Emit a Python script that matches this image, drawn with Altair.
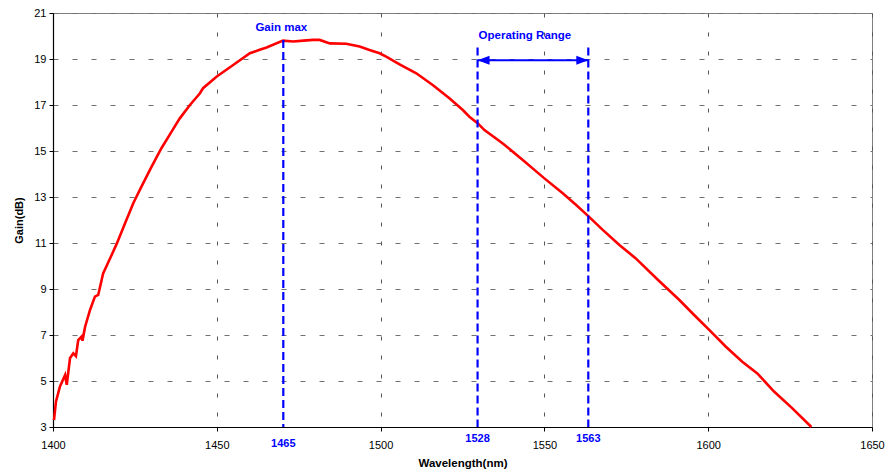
import altair as alt
import pandas as pd

# Curve
wavelength = [1400.3, 1400.9, 1402.1, 1403.7, 1404.2, 1405.2, 1406.2, 1407.0, 1407.7, 1408.7,
              1409.0, 1409.8, 1411.3, 1412.8, 1413.8, 1415.3, 1417.9, 1419.4, 1422.0, 1424.5,
              1427.0, 1430.1, 1433.1, 1436.2, 1438.7, 1441.8, 1444.8, 1445.8, 1449.9, 1455.0,
              1460.1, 1463.1, 1465.2, 1470.2, 1473.3, 1476.5, 1479.4, 1481.4, 1484.5, 1489.5,
              1493.6, 1496.6, 1499.7, 1501.7, 1505.8, 1510.9, 1515.9, 1521.0, 1525.1, 1527.1,
              1529.7, 1531.7, 1537.3, 1543.4, 1550.0, 1555.6, 1559.7, 1563.4, 1567.8, 1572.9,
              1577.9, 1584.7, 1591.2, 1595.7, 1600.3, 1605.4, 1610.4, 1615.0, 1620.1, 1625.7,
              1631.5]
gain = [3.30, 4.10, 4.75, 5.26, 4.83, 6.00, 6.20, 6.08, 6.78, 6.93,
        6.75, 7.36, 8.09, 8.67, 8.74, 9.68, 10.48, 10.95, 11.86, 12.73,
        13.45, 14.32, 15.12, 15.84, 16.42, 17.00, 17.50, 17.73, 18.23, 18.74,
        19.25, 19.40, 19.50, 19.80, 19.76, 19.80, 19.83, 19.83, 19.68, 19.66,
        19.54, 19.39, 19.25, 19.10, 18.77, 18.38, 17.87, 17.29, 16.78, 16.49,
        16.20, 15.91, 15.33, 14.61, 13.81, 13.16, 12.65, 12.17, 11.57, 10.91,
        10.33, 9.39, 8.52, 7.87, 7.22, 6.49, 5.84, 5.33, 4.54, 3.81,
        3.00]

# Markers
gainmax_wl = [1470.3]
gainmax_top = [19.83]
gainmax_label = ["1465"]
range_wl = [1529.6, 1563.4]
range_top = [19.5, 19.5]
range_label = ["1528", "1563"]
arrow_gain = 18.95

x_ticks = [1400, 1450, 1500, 1550, 1600, 1650]
y_ticks = [3, 5, 7, 9, 11, 13, 15, 17, 19, 21]
X_MIN, X_MAX = 1400, 1650
Y_MIN, Y_MAX = 3, 21

FONT = "Liberation Sans"
BLUE = "#0000ff"

curve = pd.DataFrame({"wl": wavelength, "gain": gain})
gm = pd.DataFrame({"wl": gainmax_wl, "top": gainmax_top, "label": gainmax_label,
                   "base": [Y_MIN] * len(gainmax_wl)})
rg = pd.DataFrame({"wl": range_wl, "top": range_top, "label": range_label,
                   "base": [Y_MIN] * len(range_wl)})
arrow = pd.DataFrame({"x1": [range_wl[0]], "x2": [range_wl[1]], "g": [arrow_gain]})
heads = pd.DataFrame({"wl": range_wl, "g": [arrow_gain] * 2, "dir": ["L", "R"]})
titles = pd.DataFrame({"wl": [gainmax_wl[0], range_wl[0]],
                       "top": [gainmax_top[0], range_top[0]],
                       "text": ["Gain max", "Operating Range"]})

xs = alt.Scale(domain=[X_MIN, X_MAX], nice=False, zero=False)
ys = alt.Scale(domain=[Y_MIN, Y_MAX], nice=False, zero=False)

x_axis = alt.Axis(values=x_ticks, title="Wavelength(nm)", grid=True, gridDash=[4, 15],
                  gridColor="#555555", gridWidth=1, domainColor="#000000", domainWidth=1.2,
                  tickColor="#000000", tickSize=4, labelFont=FONT, labelFontSize=11,
                  labelColor="#000000", labelPadding=8, titleFont=FONT, titleFontSize=11.5,
                  titleFontWeight="bold", titleColor="#000000", titlePadding=7,
                  labelFlush=False, format="d")
y_axis = alt.Axis(values=y_ticks, title="Gain(dB)", grid=True, gridDash=[5, 14],
                  gridColor="#707070", gridWidth=1, domainColor="#000000", domainWidth=1.2,
                  tickColor="#000000", tickSize=4, labelFont=FONT, labelFontSize=11,
                  labelColor="#000000", labelPadding=3, titleFont=FONT, titleFontSize=11,
                  titleFontWeight="bold", titleColor="#000000", titlePadding=9,
                  labelFlush=False)

line = alt.Chart(curve).mark_line(color="#ff0000", strokeWidth=2.6).encode(
    x=alt.X("wl:Q", scale=xs, axis=x_axis),
    y=alt.Y("gain:Q", scale=ys, axis=y_axis),
)

gm_rule = alt.Chart(gm).mark_rule(color=BLUE, strokeWidth=2.2, strokeDash=[8, 4]).encode(
    x="wl:Q", y="top:Q", y2="base:Q")
rg_rule = alt.Chart(rg).mark_rule(color=BLUE, strokeWidth=2.2, strokeDash=[8, 4]).encode(
    x="wl:Q", y="top:Q", y2="base:Q")

arrow_line = alt.Chart(arrow).mark_rule(color=BLUE, strokeWidth=2).encode(
    x="x1:Q", x2="x2:Q", y="g:Q")
head_l = alt.Chart(heads).transform_filter("datum.dir == 'L'").mark_point(
    shape="M 0 0 L 2 -0.75 L 2 0.75 Z", filled=True, color=BLUE, size=144, opacity=1).encode(
    x="wl:Q", y="g:Q")
head_r = alt.Chart(heads).transform_filter("datum.dir == 'R'").mark_point(
    shape="M 0 0 L -2 -0.75 L -2 0.75 Z", filled=True, color=BLUE, size=144, opacity=1).encode(
    x="wl:Q", y="g:Q")

gm_label = alt.Chart(gm).mark_text(font=FONT, fontSize=11, fontWeight="bold", color=BLUE,
                                   baseline="alphabetic", dy=20).encode(
    x="wl:Q", y="base:Q", text="label:N")
rg_label = alt.Chart(rg).mark_text(font=FONT, fontSize=11, fontWeight="bold", color=BLUE,
                                   baseline="alphabetic", dy=15).encode(
    x="wl:Q", y="base:Q", text="label:N")

t_gain = alt.Chart(titles).transform_filter("datum.text == 'Gain max'").mark_text(
    font=FONT, fontSize=11.5, fontWeight="bold", color=BLUE, baseline="alphabetic",
    align="center", dx=-2, dy=-8.5).encode(x="wl:Q", y="top:Q", text="text:N")
t_range = alt.Chart(titles).transform_filter("datum.text == 'Operating Range'").mark_text(
    font=FONT, fontSize=11.5, fontWeight="bold", color=BLUE, baseline="alphabetic",
    align="left", dx=1, dy=-9).encode(x="wl:Q", y="top:Q", text="text:N")

chart = alt.layer(line, gm_rule, rg_rule, arrow_line, head_l, head_r,
                  gm_label, rg_label, t_gain, t_range).properties(
    width=819, height=414,
    autosize=alt.AutoSizeParams(type="none"),
    padding={"left": 53, "top": 13, "right": 15, "bottom": 45},
    background="#ffffff",
).configure_view(stroke="#808080", strokeWidth=1)

chart.save("out.html", embed_options={"renderer": "svg", "actions": False})
